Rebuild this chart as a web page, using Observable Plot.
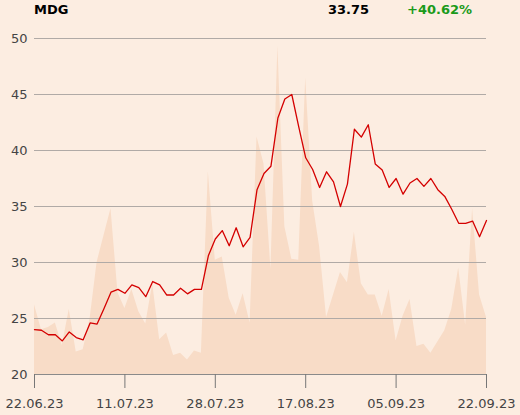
<!DOCTYPE html>
<html><head><meta charset="utf-8">
<script src="https://cdn.jsdelivr.net/npm/d3@7"></script>
<script src="https://cdn.jsdelivr.net/npm/@observablehq/plot@0.6"></script>
<style>
html,body{margin:0;padding:0;background:#fcede1;}
body{width:520px;height:415px;overflow:hidden;font-family:"DejaVu Sans",sans-serif;}
#head{position:relative;height:20px;font-weight:bold;font-size:13px;line-height:15px;}
#head span{position:absolute;top:2px;white-space:nowrap;}
</style></head><body>
<div id="head"><span style="left:34px;color:#000">MDG</span><span style="right:151px;color:#000">33.75</span><span style="left:407px;color:#1a9a1a">+40.62%</span></div>
<div id="chart"></div>
<script>
// Closing prices, one per trading day (22.06.23 – 22.09.23)
const price = [24.0,23.95,23.55,23.55,23.0,23.8,23.3,23.1,24.6,24.5,
  25.9,27.35,27.6,27.25,28.0,27.75,26.95,28.3,28.0,27.1,
  27.1,27.7,27.2,27.6,27.6,30.6,32.1,32.85,31.5,33.1,
  31.4,32.25,36.5,37.95,38.6,42.9,44.6,45.0,42.1,39.35,
  38.3,36.7,38.1,37.2,35.0,37.0,41.9,41.2,42.3,38.8,
  38.25,36.7,37.5,36.1,37.1,37.5,36.8,37.5,36.5,35.9,
  34.75,33.5,33.5,33.7,32.3,33.75];
// Traded volume (thousand shares), same days
const volume = [6.2,4.0,4.2,4.6,2.6,5.8,2.0,2.2,5.0,10.0,
  12.4,14.8,7.3,5.9,7.6,5.6,4.5,8.1,3.1,3.7,
  1.7,1.9,1.3,2.1,1.9,18.1,10.2,10.5,6.8,5.3,
  7.2,4.6,21.2,18.8,9.4,29.3,13.2,10.3,10.2,26.5,
  15.5,11.4,5.1,7.1,9.1,8.2,12.7,8.1,7.1,7.1,
  5.2,7.6,3.0,5.2,6.7,2.5,2.7,1.9,2.9,3.9,
  5.8,9.5,4.4,14.8,7.1,5.1];
const tickLabels = ["22.06.23","11.07.23","28.07.23","17.08.23","05.09.23","22.09.23"];
const tickIndex = [0,13,26,39,52,65];
const yTicks = [20,25,30,35,40,45,50];

const yMin = 20, yMax = 50, volTop = 30;
const data = price.map((p,i)=>({i, price:p, vol:volume[i]}));

const chart = Plot.plot({
  width: 520, height: 395,
  marginTop: 18, marginBottom: 41, marginLeft: 34, marginRight: 34,
  style: {background: "transparent", fontFamily: "DejaVu Sans, sans-serif", fontSize: "13px", color: "#444"},
  x: {domain: [0, price.length-1], label: null},
  y: {domain: [yMin, yMax], label: null},
  marks: [
    Plot.areaY(data, {x: "i", y1: yMin, y2: d => yMin + d.vol/volTop*(yMax-yMin), fill: "#f8dcc7"}),
    Plot.gridY(yTicks.filter(t=>t>yMin), {stroke: "#b0aaa6", strokeOpacity: 1}),
    Plot.ruleY([yMin], {stroke: "#8a8a8a"}),
    Plot.axisY(yTicks, {tickSize: 0, tickPadding: 7, fill: "#444", label: null}),
    Plot.axisX(tickIndex, {tickSize: 14, tickPadding: 10, stroke: "#777", fill: "#444", tickFormat: (d)=>tickLabels[tickIndex.indexOf(d)], label: null}),
    Plot.lineY(data, {x: "i", y: "price", stroke: "#d40000", strokeWidth: 1.3})
  ]
});
document.getElementById("chart").appendChild(chart);
</script>
</body></html>
